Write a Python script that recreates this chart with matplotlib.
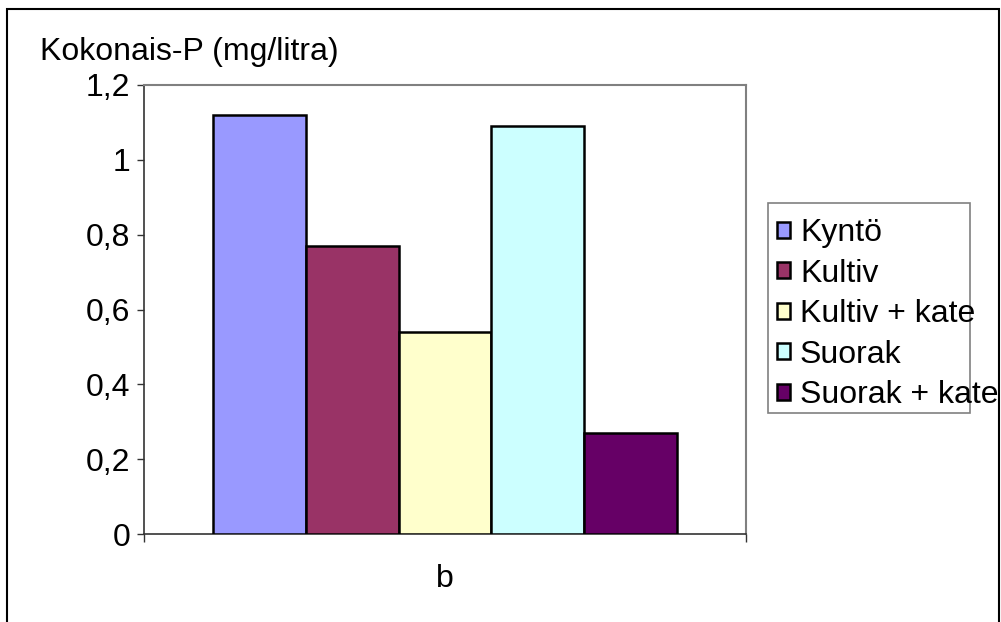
import matplotlib.pyplot as plt
from matplotlib.patches import Rectangle
from matplotlib.ticker import FuncFormatter

plt.rcParams['font.family'] = ['Liberation Sans', 'DejaVu Sans']

category = 'b'
treatments = ['Kyntö', 'Kultiv', 'Kultiv + kate', 'Suorak', 'Suorak + kate']
values = [1.12, 0.77, 0.54, 1.09, 0.27]
colors = ['#9999FF', '#993366', '#FFFFCC', '#CCFFFF', '#660066']

W, H = 1001, 622
FS = 23
fig = plt.figure(figsize=(W / 100, H / 100), dpi=100)
ax = fig.add_axes([144 / W, (H - 534) / H, (746 - 144) / W, (534 - 85) / H])

# one category, five bars side by side (gap width 150 %)
width = 1 / 6.5
for i, (name, v, c) in enumerate(zip(treatments, values, colors)):
    ax.bar((i - 2) * width, v, width, color=c, edgecolor='black',
           linewidth=1.8, label=name, zorder=3)

ax.set_xlim(-0.5, 0.5)
ax.set_ylim(0, 1.2)
ax.set_yticks([0, 0.2, 0.4, 0.6, 0.8, 1.0, 1.2])
ax.yaxis.set_major_formatter(FuncFormatter(lambda v, p: f'{v:g}'.replace('.', ',')))
ax.tick_params(axis='y', labelsize=FS, length=5, width=1, color='#333333', pad=5)

ax.set_xticks([0], [category])
ax.set_xticks([-0.5, 0.5], minor=True)
ax.tick_params(axis='x', which='major', length=0, labelsize=FS, pad=21.5)
ax.tick_params(axis='x', which='minor', length=6, width=1, color='#333333')

for side in ['left', 'bottom']:
    ax.spines[side].set_color('#333333')
    ax.spines[side].set_linewidth(1.2)
for side in ['top', 'right']:
    ax.spines[side].set_color('#808080')
    ax.spines[side].set_linewidth(1.5)

fig.text(40 / W, 1 - 52 / H, 'Kokonais-P (mg/litra)', fontsize=FS, va='center', ha='left')

# legend, with its frame drawn separately so the long label runs past it
fig.legend(loc='upper left', bbox_to_anchor=(777 / W, 1 - 218 / H), frameon=False,
           fontsize=FS, handlelength=0.4, handleheight=0.4, handletextpad=0.32,
           labelspacing=0.33, borderaxespad=0, borderpad=0)
fig.add_artist(Rectangle((768 / W, 1 - 413 / H), (970 - 768) / W, (413 - 203) / H,
                         transform=fig.transFigure, fill=False, edgecolor='#808080', lw=1.2))

# outer chart border
fig.add_artist(Rectangle((7 / W, -0.01), (999 - 7) / W, 1 - 9 / H + 0.01,
                         transform=fig.transFigure, fill=False, edgecolor='black', lw=1.5))

fig.savefig('out.png', dpi=100)
